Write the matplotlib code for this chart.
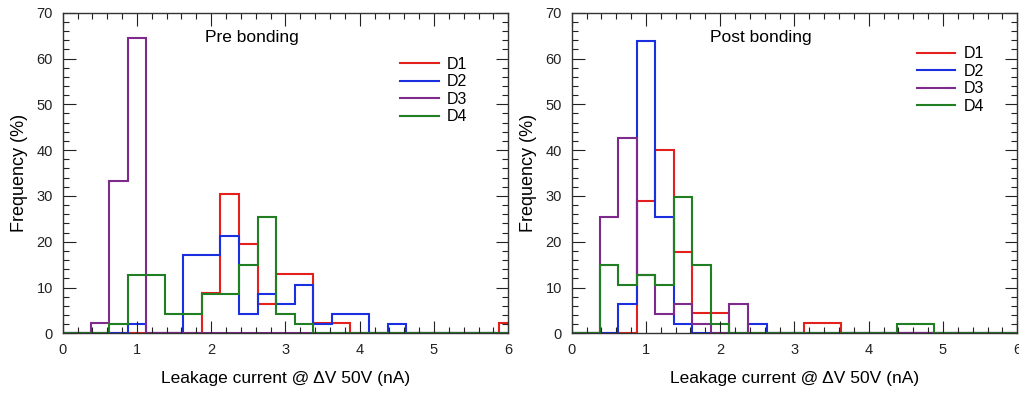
import matplotlib
matplotlib.use("Agg")
import matplotlib.pyplot as plt
import numpy as np
from matplotlib.ticker import MultipleLocator

plt.rcParams['font.family'] = ['Liberation Sans', 'DejaVu Sans']

# bin centres (nA), bins are 0.25 nA wide
bin_centers = [0.0, 0.25, 0.5, 0.75, 1.0, 1.25, 1.5, 1.75, 2.0, 2.25, 2.5, 2.75,
               3.0, 3.25, 3.5, 3.75, 4.0, 4.25, 4.5, 4.75, 5.0, 5.25, 5.5, 5.75, 6.0]
bin_width = 0.25

labels = ["D1", "D2", "D3", "D4"]
colors = ["#e3201c", "#1a2fe0", "#7e2a8c", "#1f7f22"]

# frequency (%) per bin, pre bonding
pre_d1 = [0, 0, 0, 0, 0, 0, 0, 0, 8.7, 30.4, 19.6, 6.5, 13.0, 13.0, 2.2, 2.2,
          0, 0, 0, 0, 0, 0, 0, 0, 2.2]
pre_d2 = [0, 0, 0, 0, 2.1, 0, 0, 17.0, 17.0, 21.3, 4.3, 8.5, 6.4, 10.6, 2.1, 4.3,
          4.3, 0, 2.1, 0, 0, 0, 0, 0, 0]
pre_d3 = [0, 0, 2.2, 33.3, 64.4, 0, 0, 0, 0, 0, 0, 0, 0, 0, 0, 0,
          0, 0, 0, 0, 0, 0, 0, 0, 0]
pre_d4 = [0, 0, 0, 2.1, 12.8, 12.8, 4.3, 4.3, 8.5, 8.5, 14.9, 25.5, 4.3, 2.1, 0, 0,
          0, 0, 0, 0, 0, 0, 0, 0, 0]

# frequency (%) per bin, post bonding
post_d1 = [0, 0, 0, 0, 28.9, 40.0, 17.8, 4.4, 4.4, 0, 0, 0, 0, 2.2, 2.2, 0,
           0, 0, 0, 0, 0, 0, 0, 0, 0]
post_d2 = [0, 0, 0, 6.4, 63.8, 25.5, 2.1, 0, 0, 0, 2.1, 0, 0, 0, 0, 0,
           0, 0, 0, 0, 0, 0, 0, 0, 0]
post_d3 = [0, 0, 25.5, 42.6, 12.8, 4.3, 6.4, 2.1, 0, 6.4, 0, 0, 0, 0, 0, 0,
           0, 0, 0, 0, 0, 0, 0, 0, 0]
post_d4 = [0, 0, 14.9, 10.6, 12.8, 10.6, 29.8, 14.9, 2.1, 0, 0, 0, 0, 0, 0, 0,
           0, 0, 2.1, 2.1, 0, 0, 0, 0, 0]

edges = np.append(np.array(bin_centers) - bin_width / 2, bin_centers[-1] + bin_width / 2)

fig = plt.figure(figsize=(10.19, 3.94), dpi=100)
ax1 = fig.add_axes([0.0615, 0.154, 0.4373, 0.8137])
ax2 = fig.add_axes([0.561, 0.154, 0.4373, 0.8137])


def draw_panel(ax, series, title, legend_xy):
    for vals, lab, col in zip(series, labels, colors):
        ax.stairs(vals, edges, color=col, lw=1.5, label=lab)
    ax.set_xlim(0, 6)
    ax.set_ylim(0, 70)
    ax.xaxis.set_major_locator(MultipleLocator(1))
    ax.xaxis.set_minor_locator(MultipleLocator(0.2))
    ax.yaxis.set_major_locator(MultipleLocator(10))
    ax.yaxis.set_minor_locator(MultipleLocator(2))
    ax.tick_params(which="both", direction="in", top=True, right=True,
                   width=0.8, labelsize=10.5, colors="#222222")
    ax.tick_params(which="major", length=9, pad=7)
    ax.tick_params(which="minor", length=4.5)
    for sp in ax.spines.values():
        sp.set_color("#333333")
        sp.set_linewidth(1.0)
    ax.set_xlabel("Leakage current @ ΔV 50V (nA)", fontsize=12.5, labelpad=10)
    ax.set_ylabel("Frequency (%)", fontsize=13, labelpad=6)
    ax.text(2.55, 64.7, title, fontsize=12.5, ha="center", va="center")
    ax.legend(loc="upper left", bbox_to_anchor=legend_xy, frameon=False,
              fontsize=11.5, handlelength=2.4, handletextpad=0.5,
              labelspacing=0.15, borderpad=0, borderaxespad=0)


draw_panel(ax1, [pre_d1, pre_d2, pre_d3, pre_d4], "Pre bonding", (0.758, 0.862))
draw_panel(ax2, [post_d1, post_d2, post_d3, post_d4], "Post bonding", (0.775, 0.895))

fig.savefig("out.png", dpi=100)
